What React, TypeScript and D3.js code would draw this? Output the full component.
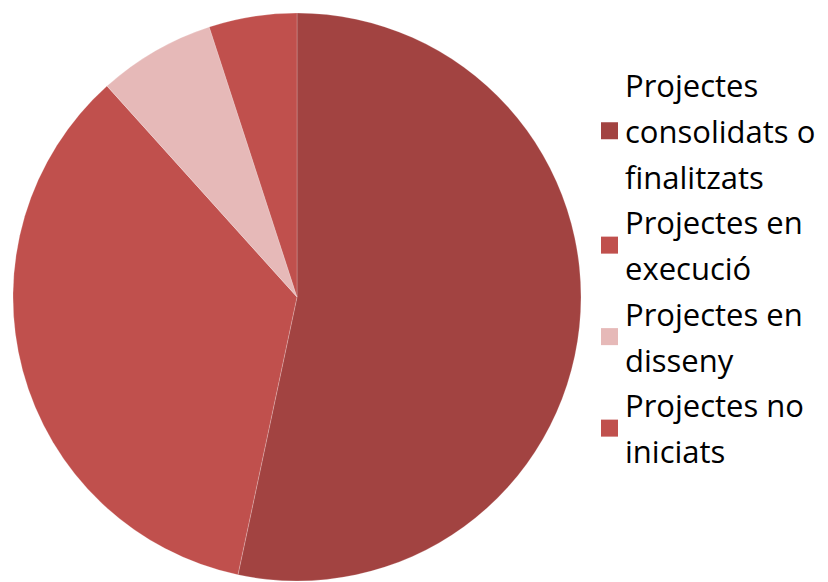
import React, { useEffect, useRef } from 'react';
import * as d3 from 'd3';

// project counts per status
const categories = [
    'Projectes consolidats o finalitzats',
    'Projectes en execució',
    'Projectes en disseny',
    'Projectes no iniciats',
];
const values = [32, 21, 4, 3];
const colors = ['#a24341', '#c0504d', '#e6b9b8', '#c0504d'];
// legend line breaks as they appear in the chart
const legendLines = [
    ['Projectes', 'consolidats o', 'finalitzats'],
    ['Projectes en', 'execució'],
    ['Projectes en', 'disseny'],
    ['Projectes no', 'iniciats'],
];

const App: React.FC = () => {
    const chartRef = useRef<SVGSVGElement | null>(null);

    useEffect(() => {
        document.body.style.margin = '0';
        if (!chartRef.current) return;
        const svg = d3.select(chartRef.current);
        svg.selectAll('*').remove();

        const width = 828;
        const height = 582;
        const cx = 297;
        const cy = 297;
        const radius = 284;

        svg.attr('width', width).attr('height', height);

        const g = svg.append('g').attr('transform', `translate(${cx},${cy})`);

        const pie = d3.pie<number>().value(d => d).sort(null);
        const arc = d3.arc<d3.PieArcDatum<number>>().innerRadius(0).outerRadius(radius);

        g.selectAll('path')
            .data(pie(values))
            .enter().append('path')
            .attr('d', arc)
            .attr('fill', (_d, i) => colors[i])
            .attr('stroke', 'rgba(255,255,255,0.35)')
            .attr('stroke-width', 0.6);

        // legend
        const lineH = 45.75;
        const firstBaseline = 97;
        const legend = svg.append('g');
        let line = 0;
        legendLines.forEach((lines, i) => {
            const top = firstBaseline + line * lineH;
            const blockMid = top - 10 + ((lines.length - 1) * lineH) / 2;
            legend.append('rect')
                .attr('x', 601)
                .attr('y', blockMid - 8.5 - 2)
                .attr('width', 17)
                .attr('height', 17)
                .attr('fill', colors[i]);
            const text = legend.append('text')
                .attr('x', 625)
                .attr('y', top)
                .style('font-family', '"Open Sans", sans-serif')
                .style('font-size', '31px')
                .style('fill', '#000');
            lines.forEach((l, j) => {
                text.append('tspan')
                    .attr('x', 625)
                    .attr('y', top + j * lineH)
                    .text(l);
            });
            line += lines.length;
        });
        legend.attr('aria-label', categories.join(', '));
    }, []);

    return <svg ref={chartRef} style={{ display: 'block' }}></svg>;
};

export default App;
